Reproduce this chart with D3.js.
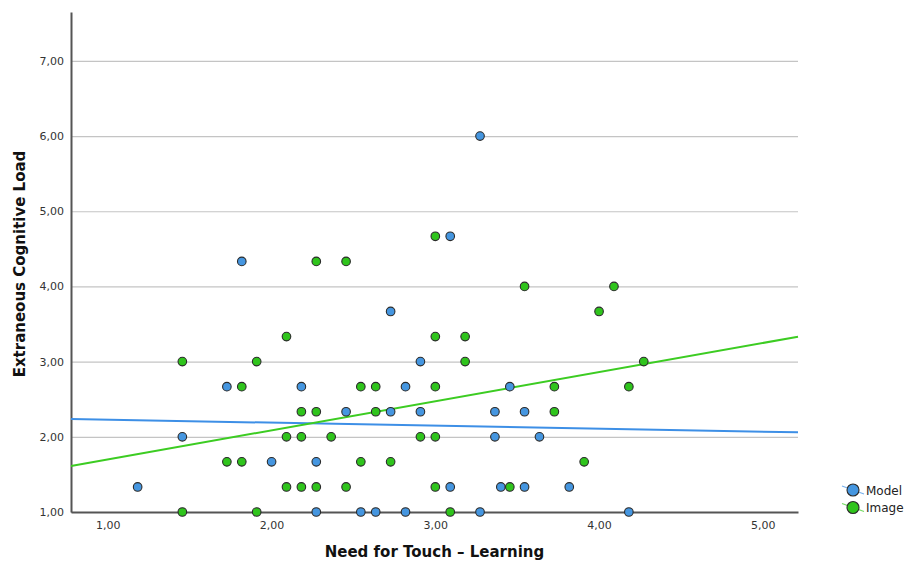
<!DOCTYPE html>
<html>
<head>
<meta charset="utf-8">
<script src="https://cdn.jsdelivr.net/npm/d3@7"></script>
<style>
    body { margin: 0; background: #fff; }
    text { font-family: "DejaVu Sans", sans-serif; fill: #333; }
    .tick-label { font-size: 11px; }
    .axis-title { font-size: 15px; font-weight: bold; fill: #111; }
    .legend-label { font-size: 12px; fill: #222; }
</style>
</head>
<body>
<div id="chart"></div>
<script>
// tick values for both axes
const xTicks = [1, 2, 3, 4, 5];
const yTicks = [1, 2, 3, 4, 5, 6, 7];

// Need for Touch - Learning (x) vs Extraneous Cognitive Load (y)
const modelPoints = [
    [1.182, 1.333], [1.455, 2.0], [1.727, 2.667], [1.818, 4.333], [2.000, 1.667],
    [2.182, 2.667], [2.273, 1.667], [2.273, 1.0], [2.455, 2.333], [2.545, 1.0],
    [2.636, 1.0], [2.727, 3.667], [2.727, 2.333], [2.818, 2.667], [2.818, 1.0],
    [2.909, 3.0], [2.909, 2.333], [3.091, 4.667], [3.091, 1.333], [3.273, 6.0],
    [3.273, 1.0], [3.364, 2.333], [3.364, 2.0], [3.40, 1.333], [3.455, 2.667],
    [3.545, 2.333], [3.545, 1.333], [3.636, 2.0], [3.818, 1.333], [4.182, 1.0]
];

const imagePoints = [
    [1.455, 3.0], [1.455, 1.0], [1.727, 1.667], [1.818, 2.667], [1.818, 1.667],
    [1.909, 3.0], [1.909, 1.0], [2.091, 3.333], [2.091, 2.0], [2.091, 1.333],
    [2.182, 2.333], [2.182, 2.0], [2.182, 1.333], [2.273, 4.333], [2.273, 2.333],
    [2.273, 1.333], [2.364, 2.0], [2.455, 4.333], [2.455, 1.333], [2.545, 2.667],
    [2.545, 1.667], [2.636, 2.667], [2.636, 2.333], [2.727, 1.667], [2.909, 2.0],
    [3.000, 4.667], [3.000, 3.333], [3.000, 2.667], [3.000, 2.0], [3.000, 1.333],
    [3.091, 1.0], [3.182, 3.333], [3.182, 3.0], [3.455, 1.333], [3.545, 4.0],
    [3.727, 2.667], [3.727, 2.333], [3.909, 1.667], [4.000, 3.667], [4.091, 4.0],
    [4.182, 2.667], [4.273, 3.0]
];

// fit lines: [intercept, slope]
const modelFit = [2.268, -0.040];
const imageFit = [1.313, 0.387];

const seriesNames = ["Model", "Image"];

const config = {
    width: 906,
    height: 563,
    left: 71,
    right: 798,
    top: 12,
    bottom: 512,
    xDomain: [0.775, 5.215],
    yDomain: [1, 7.65],
    colors: { Model: "#4596e0", Image: "#2fc41c" },
    lineColors: { Model: "#3d8fe6", Image: "#3ccc22" },
};

const svg = d3.select('#chart')
    .append('svg')
    .attr('width', config.width)
    .attr('height', config.height)
;

const x = d3.scaleLinear()
    .domain(config.xDomain)
    .range([config.left, config.right])
;

const y = d3.scaleLinear()
    .domain(config.yDomain)
    .range([config.bottom, config.top])
;

const fmt = d => d3.format('.2f')(d).replace('.', ',');

// horizontal grid lines
svg.append('g')
    .attr('transform', `translate(${config.left},0)`)
    .call(d3.axisLeft(y).tickValues(yTicks).tickSize(-(config.right - config.left)).tickFormat(''))
    .call(g => g.select('.domain').remove())
    .call(g => g.selectAll('line').attr('stroke', '#c4c4c4').attr('stroke-width', 1.2))
;

// y axis
svg.append('g')
    .attr('transform', `translate(${config.left},0)`)
    .call(d3.axisLeft(y).tickValues(yTicks).tickSize(0).tickPadding(7).tickFormat(fmt))
    .call(g => g.select('.domain').attr('stroke', '#555').attr('stroke-width', 2))
    .call(g => g.selectAll('text').attr('class', 'tick-label').attr('font-family', null).attr('font-size', null))
;

// x axis
svg.append('g')
    .attr('transform', `translate(0,${config.bottom})`)
    .call(d3.axisBottom(x).tickValues(xTicks).tickSize(0).tickPadding(9).tickFormat(fmt))
    .call(g => g.select('.domain').attr('stroke', '#555').attr('stroke-width', 2))
    .call(g => g.selectAll('text').attr('class', 'tick-label').attr('font-family', null).attr('font-size', null))
;

// fit lines
const fitLine = d3.line()
    .x(d => x(d[0]))
    .y(d => y(d[1]))
;

[[modelFit, 'Model'], [imageFit, 'Image']].forEach(([fit, name]) => {
    const pts = config.xDomain.map(v => [v, fit[0] + fit[1] * v]);
    svg.append('path')
        .attr('d', fitLine(pts))
        .attr('fill', 'none')
        .attr('stroke', config.lineColors[name])
        .attr('stroke-width', 2)
    ;
});

// points
[[modelPoints, 'Model'], [imagePoints, 'Image']].forEach(([pts, name]) => {
    svg.append('g')
        .selectAll('circle')
        .data(pts)
        .enter()
        .append('circle')
        .attr('cx', d => x(d[0]))
        .attr('cy', d => y(d[1]))
        .attr('r', 4.3)
        .attr('fill', config.colors[name])
        .attr('stroke', '#2a2a2a')
        .attr('stroke-width', 1.1)
    ;
});

// axis titles
svg.append('text')
    .attr('class', 'axis-title')
    .attr('x', (config.left + config.right) / 2)
    .attr('y', 557)
    .attr('text-anchor', 'middle')
    .text('Need for Touch \u2013 Learning')
;

svg.append('text')
    .attr('class', 'axis-title')
    .attr('transform', `translate(25,${(config.top + config.bottom) / 2 + 2}) rotate(-90)`)
    .attr('text-anchor', 'middle')
    .text('Extraneous Cognitive Load')
;

// legend
const legend = svg.append('g')
    .attr('transform', 'translate(853,490)')
;

seriesNames.forEach((name, i) => {
    const g = legend.append('g').attr('transform', `translate(0,${i * 17.5})`);
    g.append('line')
        .attr('x1', -11).attr('y1', -4)
        .attr('x2', 11).attr('y2', 4)
        .attr('stroke', config.lineColors[name])
        .attr('stroke-width', 1.2)
        .attr('opacity', 0.7)
    ;
    g.append('circle')
        .attr('r', 6)
        .attr('fill', config.colors[name])
        .attr('stroke', '#2a2a2a')
        .attr('stroke-width', 1.1)
    ;
    g.append('text')
        .attr('class', 'legend-label')
        .attr('x', 13)
        .attr('y', 4.5)
        .text(name)
    ;
});
</script>
</body>
</html>
